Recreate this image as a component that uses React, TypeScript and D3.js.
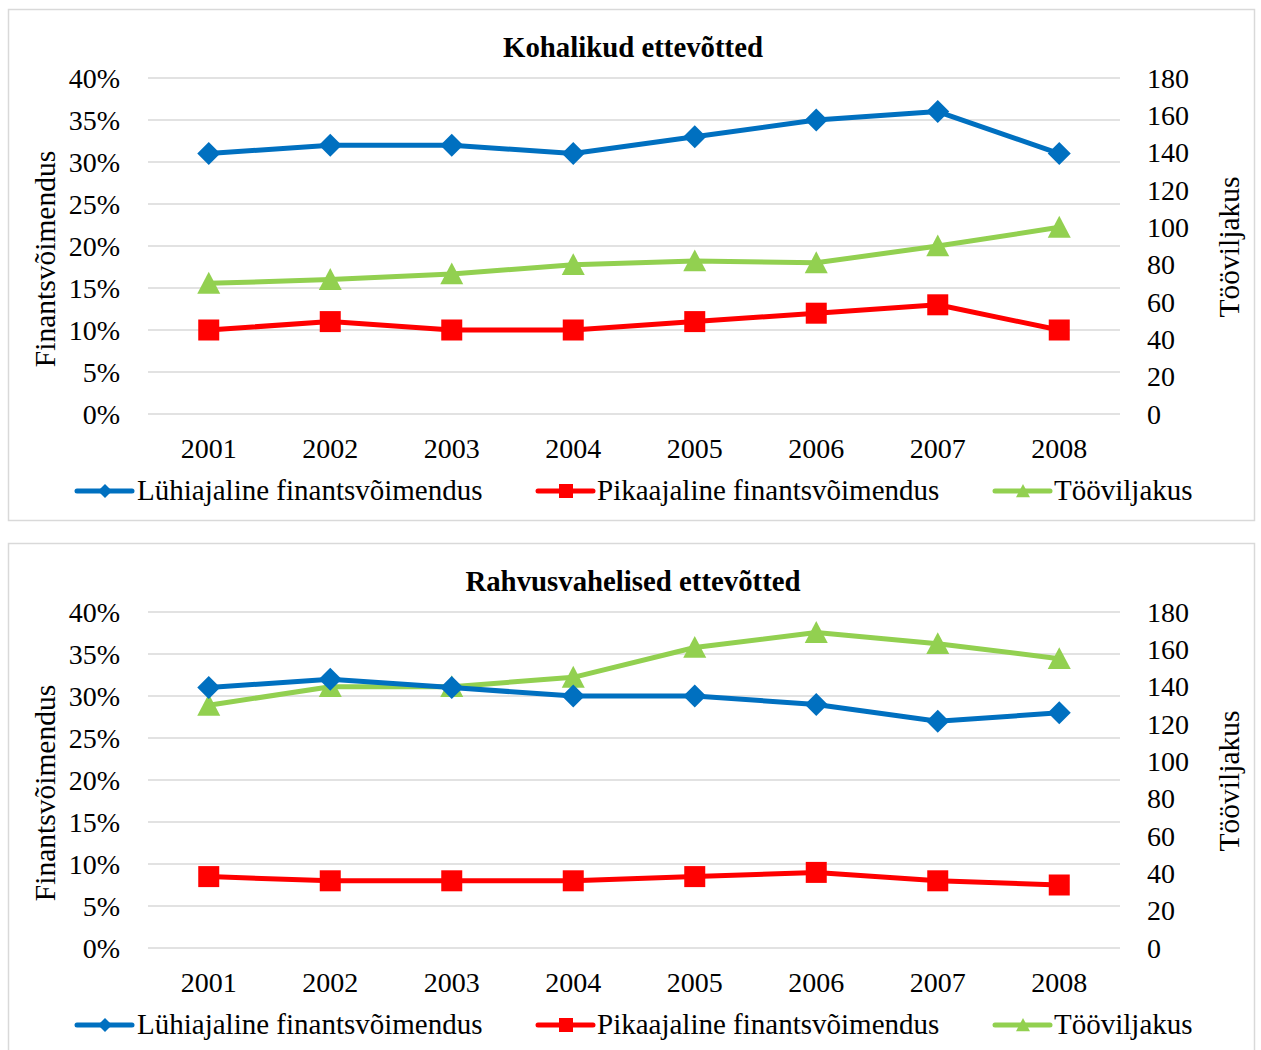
import React from "react";
import * as d3 from "d3";

const years = ["2001", "2002", "2003", "2004", "2005", "2006", "2007", "2008"];
const leftTicks = [0, 5, 10, 15, 20, 25, 30, 35, 40];
const rightTicks = [0, 20, 40, 60, 80, 100, 120, 140, 160, 180];

const titles = ["Kohalikud ettevõtted", "Rahvusvahelised ettevõtted"];
const seriesNames = ["Lühiajaline finantsvõimendus", "Pikaajaline finantsvõimendus", "Tööviljakus"];

// Kohalikud ettevõtted
const localShort = [31, 32, 32, 31, 33, 35, 36, 31];
const localLong = [10, 11, 10, 10, 11, 12, 13, 10];
const localProd = [70, 72, 75, 80, 82, 81, 90, 100];

// Rahvusvahelised ettevõtted
const intlShort = [31, 32, 31, 30, 30, 29, 27, 28];
const intlLong = [8.5, 8, 8, 8, 8.5, 9, 8, 7.5];
const intlProd = [130, 140, 140, 145, 161, 169, 163, 155];

const BLUE = "#0070C0";
const RED = "#FF0000";
const GREEN = "#92D050";
const GRID = "#D9D9D9";
const FONT = "'Liberation Serif', 'Times New Roman', serif";

function Marker({ type, x, y, s }: { type: string; x: number; y: number; s: number }) {
  if (type === "diamond") {
    const h = s / 2;
    return <path d={`M${x},${y - h}L${x + h},${y}L${x},${y + h}L${x - h},${y}Z`} fill={BLUE} />;
  }
  if (type === "square") {
    return <rect x={x - s / 2} y={y - s / 2} width={s} height={s} fill={RED} />;
  }
  const h = s / 2;
  return <path d={`M${x},${y - h}L${x + h},${y + h * 0.9}L${x - h},${y + h * 0.9}Z`} fill={GREEN} />;
}

function Panel({ top, title, shortV, longV, prodV }: any) {
  const x = d3.scaleBand().domain(years).range([148, 1120]);
  const yL = d3.scaleLinear().domain([0, 40]).range([top + 414, top + 78]);
  const yR = d3.scaleLinear().domain([0, 180]).range([top + 414, top + 78]);
  const cx = (d: string) => (x(d) as number) + x.bandwidth() / 2;

  const lineL = d3
    .line<number>()
    .x((_, i) => cx(years[i]))
    .y((v) => yL(v));
  const lineR = d3
    .line<number>()
    .x((_, i) => cx(years[i]))
    .y((v) => yR(v));

  const legend = [
    { x: 77, tx: 137, color: BLUE, type: "diamond", name: seriesNames[0] },
    { x: 538, tx: 597, color: RED, type: "square", name: seriesNames[1] },
    { x: 995, tx: 1054, color: GREEN, type: "triangle", name: seriesNames[2] },
  ];

  return (
    <g>
      <rect x={8.5} y={top + 9.5} width={1246} height={511} fill="#fff" stroke={GRID} strokeWidth={1.5} />
      <text x={633} y={top + 57} textAnchor="middle" fontWeight="bold" fontSize={28.8} fontFamily={FONT}>
        {title}
      </text>
      {leftTicks.map((t) => (
        <g key={t}>
          <line x1={148} x2={1120} y1={yL(t)} y2={yL(t)} stroke={GRID} strokeWidth={1.5} />
          <text x={120} y={yL(t) + 9.5} textAnchor="end" fontSize={28} fontFamily={FONT}>
            {t + "%"}
          </text>
        </g>
      ))}
      {rightTicks.map((t) => (
        <text key={t} x={1147} y={yR(t) + 9.5} fontSize={28} fontFamily={FONT}>
          {t}
        </text>
      ))}
      {years.map((yv) => (
        <text key={yv} x={cx(yv)} y={top + 458} textAnchor="middle" fontSize={28} fontFamily={FONT}>
          {yv}
        </text>
      ))}
      <text
        transform={`translate(55,${top + 259}) rotate(-90)`}
        textAnchor="middle"
        fontSize={29.5}
        fontFamily={FONT}
      >
        Finantsvõimendus
      </text>
      <text
        transform={`translate(1239,${top + 247}) rotate(-90)`}
        textAnchor="middle"
        fontSize={29.5}
        fontFamily={FONT}
      >
        Tööviljakus
      </text>

      <path d={lineR(prodV) as string} fill="none" stroke={GREEN} strokeWidth={5} strokeLinejoin="round" />
      {prodV.map((v: number, i: number) => (
        <Marker key={"g" + i} type="triangle" x={cx(years[i])} y={yR(v)} s={23} />
      ))}
      <path d={lineL(longV) as string} fill="none" stroke={RED} strokeWidth={5} strokeLinejoin="round" />
      {longV.map((v: number, i: number) => (
        <Marker key={"r" + i} type="square" x={cx(years[i])} y={yL(v)} s={21} />
      ))}
      <path d={lineL(shortV) as string} fill="none" stroke={BLUE} strokeWidth={5} strokeLinejoin="round" />
      {shortV.map((v: number, i: number) => (
        <Marker key={"b" + i} type="diamond" x={cx(years[i])} y={yL(v)} s={23} />
      ))}

      {legend.map((l) => (
        <g key={l.name}>
          <line
            x1={l.x}
            x2={l.x + 55}
            y1={top + 491}
            y2={top + 491}
            stroke={l.color}
            strokeWidth={5}
            strokeLinecap="round"
          />
          <Marker type={l.type} x={l.x + 28} y={top + 491} s={14} />
          <text x={l.tx} y={top + 500} fontSize={29} fontFamily={FONT}>
            {l.name}
          </text>
        </g>
      ))}
    </g>
  );
}

export default function App() {
  return (
    <svg
      width={1261}
      height={1050}
      style={{ position: "absolute", left: 0, top: 0, background: "#fff" }}
    >
      <rect x={0} y={0} width={1261} height={1050} fill="#fff" />
      <Panel top={0} title={titles[0]} shortV={localShort} longV={localLong} prodV={localProd} />
      <Panel top={534} title={titles[1]} shortV={intlShort} longV={intlLong} prodV={intlProd} />
    </svg>
  );
}
